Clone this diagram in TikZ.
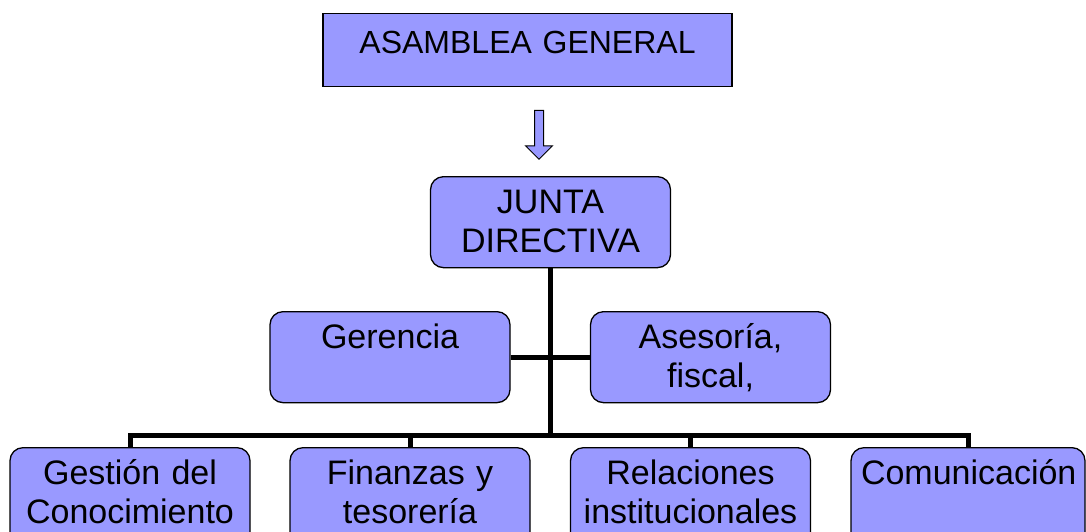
\documentclass[tikz,border=0pt]{standalone}
\usepackage{fontspec}
\setmainfont{Liberation Sans}
\usetikzlibrary{shapes.arrows}
\definecolor{lila}{rgb}{0.6,0.6,1}

\begin{document}
\begin{tikzpicture}[x=1pt, y=-1pt,
		caja/.style = {draw, fill=lila, line width=1.3pt,
			rounded corners=13pt, anchor=north,
			align=center, text width=220pt, inner xsep=10pt, inner ysep=10pt,
			text height=27pt, text depth=44pt,
			font=\fontsize{34}{39}\selectfont},
		linea/.style = {line width=5pt}]
		
		\clip (0,0) rectangle (1086,531);
		
		% Asamblea
		\node[caja, sharp corners, text width=389pt, text height=30pt,
			text depth=23pt, font=\fontsize{32}{39}\selectfont]
			(asamblea) at (527.5,13) {ASAMBLEA GENERAL};
		
		% Flecha
		\node[single arrow, draw, fill=lila, line width=1pt, rotate=-90,
			minimum height=49pt, inner sep=4pt, single arrow head extend=9pt]
			(flecha) at (539,132.5) {};
		
		% Junta y apoyo
		\node[caja] (junta) at (550.5,176) {JUNTA\\DIRECTIVA};
		\node[caja] (ger) at (390,311) {Gerencia};
		\node[caja] (ase) at (710.5,311) {Asesoría,\\fiscal,};
		
		% Areas
		\node[caja, text depth=70pt] (ges) at (130,447) {Gestión del\\Conocimiento};
		\node[caja, text depth=70pt] (fin) at (410,447) {Finanzas y\\tesorería};
		\node[caja, text depth=70pt] (rel) at (690.5,447) {Relaciones\\institucionales};
		\node[caja, text depth=70pt, text width=214pt] (com) at (968,447) {Comunicación};
		
		% Lineas
		\coordinate (barra) at (550.5,435);
		\draw[linea] (junta.south) -- (junta.south |- barra);
		\draw[linea] (ger.east) -- (ase.west);
		\draw[linea] (ges.north) |- (barra) -| (com.north);
		\foreach \n in {fin, rel}
			\draw[linea] (\n.north) -- (\n.north |- barra);
	\end{tikzpicture}
\end{document}
